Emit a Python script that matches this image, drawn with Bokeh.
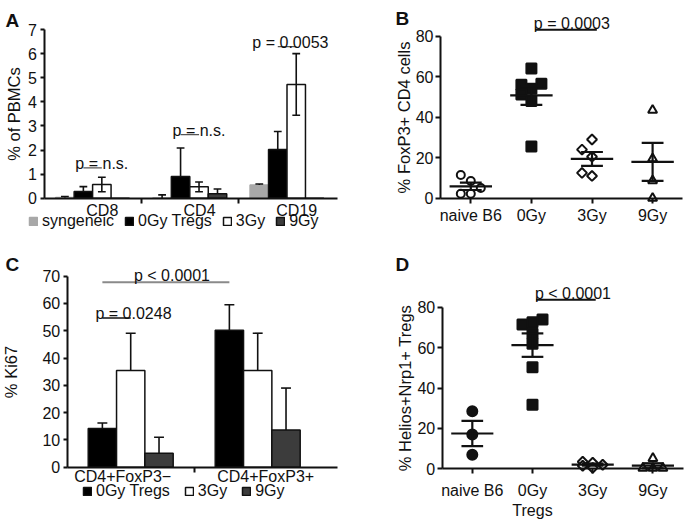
import numpy as np
from bokeh.plotting import figure
from bokeh.models import FixedTicker, Label, Legend, LegendItem, Range1d
from bokeh.layouts import column, row
from bokeh.embed import file_html
from bokeh.resources import INLINE

FONT = "Liberation Sans"
INK = "#111111"

# ---------------- Panel A data (% of PBMCs) ----------------
a_categories = ["CD8", "CD4", "CD19"]
a_series = ["syngeneic", "0Gy Tregs", "3Gy", "9Gy"]
a_syngeneic = [0.03, 0.01, 0.55]
a_syngeneic_err = [0.04, 0.13, 0.04]
a_0gy = [0.28, 0.90, 2.02]
a_0gy_err = [0.20, 1.18, 0.75]
a_3gy = [0.57, 0.47, 4.72]
a_3gy_err = [0.30, 0.20, 1.28]
a_9gy = [0.0, 0.18, 0.0]
a_9gy_err = [0.0, 0.20, 0.0]
a_pvalues = ["p = n.s.", "p = n.s.", "p = 0.0053"]

# ---------------- Panel B data (% FoxP3+ CD4 cells) ----------------
b_groups = ["naive B6", "0Gy", "3Gy", "9Gy"]
b_naive = [11.5, 8.5, 5.0, 2.2, 2.2]
b_0gy = [64.0, 56.5, 56.0, 54.0, 51.2, 48.0, 25.5]
b_3gy = [29.0, 24.0, 20.5, 12.5, 11.0]
b_9gy = [43.5, 19.5, 8.7, 0.0]
b_pvalue = "p = 0.0003"

# ---------------- Panel C data (% Ki67) ----------------
c_categories = ["CD4+FoxP3\u2212", "CD4+FoxP3+"]
c_series = ["0Gy Tregs", "3Gy", "9Gy"]
c_0gy = [14.2, 50.2]
c_0gy_err = [2.0, 9.3]
c_3gy = [35.4, 35.4]
c_3gy_err = [13.7, 13.7]
c_9gy = [5.1, 13.6]
c_9gy_err = [5.9, 15.4]
c_pvalues = ["p = 0.0248", "p < 0.0001"]

# ---------------- Panel D data (% Helios+Nrp1+ Tregs) ----------------
d_groups = ["naive B6", "0Gy\nTregs", "3Gy", "9Gy"]
d_naive = [28.5, 17.0, 6.9]
d_0gy = [73.9, 72.6, 71.4, 66.8, 61.9, 50.3, 31.7]
d_3gy = [3.5, 3.0, 2.0, 1.5, 0.5]
d_9gy = [5.2, 0.3, 0.3, 0.3]
d_pvalue = "p < 0.0001"

LIFT = 2.0  # px: small upward nudge for free text labels


def make_fig(W, H, x_org, x_org_px, xppu, y_org, y_org_px_bottom, yppu):
    """Figure whose plotting frame covers the whole canvas; axes are pinned inside."""
    x0 = x_org - x_org_px / xppu
    y0 = y_org - y_org_px_bottom / yppu
    p = figure(width=W, height=H, x_range=Range1d(x0, x0 + W / xppu),
               y_range=Range1d(y0, y0 + H / yppu),
               output_backend="svg", toolbar_location=None,
               min_border_left=0, min_border_right=0, min_border_top=0, min_border_bottom=0)
    p.grid.visible = False
    p.outline_line_color = None
    p.background_fill_color = "white"
    p.border_fill_color = "white"
    for ax in p.axis:
        ax.axis_line_width = 2
        ax.axis_line_color = INK
        ax.major_tick_line_width = 2
        ax.major_tick_line_color = INK
        ax.minor_tick_line_width = 2
        ax.minor_tick_line_color = None
        ax.major_tick_in = 0
        ax.minor_tick_in = 0
        ax.major_label_text_font = FONT
        ax.major_label_text_font_size = "16px"
        ax.major_label_text_color = INK
        ax.axis_label_text_font = FONT
        ax.axis_label_text_font_size = "16.5px"
        ax.axis_label_text_font_style = "normal"
        ax.axis_label_text_color = INK
    p.xaxis.fixed_location = y_org
    p.yaxis.fixed_location = x_org
    X = lambda px: x0 + px / xppu                 # px from left edge of canvas
    Y = lambda px: y0 + (H - px) / yppu           # px from top edge of canvas
    return p, X, Y


def label(p, x, y, text, yppu, size="16px", bold=False, align="left", color=INK):
    p.add_layout(Label(x=x, y=y + LIFT / yppu, text=text, text_font=FONT, text_font_size=size,
                       text_font_style="bold" if bold else "normal",
                       text_align=align, text_baseline="alphabetic", text_color=color))


def errorbars(p, xs, tops, errs, cap, both):
    xs = np.asarray(xs, float)
    tops = np.asarray(tops, float)
    errs = np.asarray(errs, float)
    m = errs > 0
    xs, tops, errs = xs[m], tops[m], errs[m]
    lo = tops - errs if both else tops
    hi = tops + errs
    p.segment(x0=xs, y0=lo, x1=xs, y1=hi, line_color=INK, line_width=1.6)
    p.segment(x0=xs - cap, y0=hi, x1=xs + cap, y1=hi, line_color=INK, line_width=1.6)
    if both:
        p.segment(x0=xs - cap, y0=lo, x1=xs + cap, y1=lo, line_color=INK, line_width=1.6)


def swarm(vals, xc, px_x, px_y, d_px=10.0, coll_px=9.5):
    vals = np.asarray(vals, float)
    order = np.argsort(vals, kind="stable")
    placed = []
    offs = np.zeros(len(vals))
    for i in order:
        y = vals[i] * px_y
        best, best_d = 0.0, -1.0
        for k in (0, -1, 1):
            x = k * d_px
            dmin = min([np.hypot(x - a, y - b) for a, b in placed] + [1e9])
            if dmin >= coll_px:
                best = x
                break
            if dmin > best_d:
                best, best_d = x, dmin
        placed.append((best, y))
        offs[i] = best / px_x
    return xc + offs


def dotplot(p, groups_vals, markers, px_x, px_y):
    for i, (vals, (mk, size, filled)) in enumerate(zip(groups_vals, markers)):
        xc = i + 1
        xs = swarm(vals, xc, px_x, px_y)
        kw = dict(marker=mk, size=size, line_color=INK, line_width=2,
                  fill_color=INK if filled else "white")
        if mk == "diamond":
            kw["marker"] = "square"
            kw["angle"] = np.pi / 4
        p.scatter(x=xs, y=vals, **kw)
        v = np.asarray(vals, float)
        mean = v.mean()
        sem = v.std(ddof=1) / np.sqrt(len(v))
        p.segment(x0=[xc - 0.35], y0=[mean], x1=[xc + 0.35], y1=[mean], line_color=INK, line_width=2.2)
        p.segment(x0=[xc], y0=[mean - sem], x1=[xc], y1=[mean + sem], line_color=INK, line_width=2.2)
        p.segment(x0=[xc - 0.18, xc - 0.18], y0=[mean - sem, mean + sem],
                  x1=[xc + 0.18, xc + 0.18], y1=[mean - sem, mean + sem], line_color=INK, line_width=2.2)


def legend(p, items, loc, spacing):
    p.add_layout(Legend(items=items, orientation="horizontal", location=loc,
                        glyph_width=10, glyph_height=10, label_standoff=4, spacing=spacing,
                        padding=0, margin=0, border_line_color=None, background_fill_alpha=0,
                        label_text_font=FONT, label_text_font_size="16px", label_text_color=INK))


# ======================= Panel A =======================
pxA, pyA = 97.2, 24.1
pA, XA, YA = make_fig(340, 250, 0, 43.5, pxA, 0, 52.3, pyA)
wA = 0.19
offA = [-1.5 * wA, -0.5 * wA, 0.5 * wA, 1.5 * wA]
cA = np.arange(len(a_categories)) + 0.5
a_vals = [a_syngeneic, a_0gy, a_3gy, a_9gy]
a_errs = [a_syngeneic_err, a_0gy_err, a_3gy_err, a_9gy_err]
a_fill = ["#a8a8a8", "#000000", "#ffffff", "#3c3c3c"]
a_line = ["#a8a8a8", INK, INK, INK]
itemsA = []
for k in range(4):
    r = pA.vbar(x=cA + offA[k], top=a_vals[k], width=wA, fill_color=a_fill[k],
                line_color=a_line[k], line_width=1.5)
    itemsA.append(LegendItem(label=a_series[k], renderers=[r]))
for k in range(4):
    errorbars(pA, cA + offA[k], a_vals[k], a_errs[k], 0.04, both=(k == 2))
a_line_h = [1.26, 2.64, 6.29]
pA.segment(x0=cA + offA[1], y0=a_line_h, x1=cA + offA[2], y1=a_line_h, line_color="#555555", line_width=1.3)
a_text_x = [cA[0] + offA[2], cA[1] + offA[2], cA[2] + offA[2] - 0.06]
for t, x, h in zip(a_pvalues, a_text_x, a_line_h):
    label(pA, x, h + 2.0 / pyA, t, pyA, align="center")
lab_pos_A = cA + 0.1
pA.xaxis.ticker = FixedTicker(ticks=list(lab_pos_A), minor_ticks=[1.0, 2.0])
pA.xaxis.major_label_overrides = {float(c): n for c, n in zip(lab_pos_A, a_categories)}
pA.xaxis.bounds = (0, 3.02)
pA.xaxis.major_tick_out = 0
pA.xaxis.minor_tick_out = 5
pA.xaxis.minor_tick_line_color = INK
pA.xaxis.major_label_standoff = -1
pA.yaxis.ticker = FixedTicker(ticks=list(range(0, 8)))
pA.yaxis.bounds = (0, 7)
pA.yaxis.major_tick_out = 4
pA.yaxis.major_label_standoff = 3
pA.yaxis.axis_label = "% of PBMCs"
pA.yaxis.axis_label_standoff = 3
legend(pA, itemsA, (28, 20), 10)
label(pA, XA(5), YA(22), "A", pyA, size="19px", bold=True)

# ======================= Panel B =======================
pxB, pyB = 60.6, 2.025
pB, XB, YB = make_fig(347, 250, 0.5, 100, pxB, 0, 52.3, pyB)
dotplot(pB, [b_naive, b_0gy, b_3gy, b_9gy],
        [("circle", 8, False), ("square", 10, True), ("diamond", 7, False), ("triangle", 9, False)],
        pxB, pyB)
pB.segment(x0=[2.06], y0=[83.2], x1=[3.08], y1=[83.2], line_color=INK, line_width=2)
label(pB, 2.04, 83.2 + 4.3 / pyB, b_pvalue, pyB)
pB.xaxis.ticker = FixedTicker(ticks=[1, 2, 3, 4])
pB.xaxis.major_label_overrides = {i + 1: g for i, g in enumerate(b_groups)}
pB.xaxis.bounds = (0.5, 4.5)
pB.xaxis.major_tick_out = 5
pB.xaxis.major_label_standoff = 4
pB.yaxis.ticker = FixedTicker(ticks=[0, 20, 40, 60, 80])
pB.yaxis.bounds = (0, 80)
pB.yaxis.major_tick_out = 5
pB.yaxis.major_label_standoff = 2
pB.yaxis.axis_label = "% FoxP3+ CD4 cells"
pB.yaxis.axis_label_standoff = 0
label(pB, XB(55), YB(20), "B", pyB, size="19px", bold=True)

# ======================= Panel C =======================
pxC, pyC = 127.0, 2.729
pC, XC, YC = make_fig(340, 270, 0, 66.7, pxC, 0, 53.3, pyC)
wC = 0.223
offC = [-wC, 0.0, wC]
cC = np.arange(len(c_categories)) + 0.5
c_vals = [c_0gy, c_3gy, c_9gy]
c_errs = [c_0gy_err, c_3gy_err, c_9gy_err]
c_fill = ["#000000", "#ffffff", "#3c3c3c"]
itemsC = []
for k in range(3):
    r = pC.vbar(x=cC + offC[k], top=c_vals[k], width=wC, fill_color=c_fill[k],
                line_color=INK, line_width=1.5)
    itemsC.append(LegendItem(label=c_series[k], renderers=[r]))
for k in range(3):
    errorbars(pC, cC + offC[k], c_vals[k], c_errs[k], 0.039, both=False)
pC.segment(x0=[cC[0] + offC[0]], y0=[54.7], x1=[cC[0] + offC[1]], y1=[54.7], line_color=INK, line_width=1.5)
label(pC, 0.522, 54.7 + 2.3 / pyC, c_pvalues[0], pyC, align="center")
pC.segment(x0=[cC[0] + offC[0]], y0=[67.8], x1=[cC[1] + offC[0]], y1=[67.8], line_color="#8a8a8a", line_width=2)
label(pC, 0.825, 67.8 + 4.4 / pyC, c_pvalues[1], pyC, align="center")
lab_pos_C = cC + np.array([-0.063, 0.063])
pC.xaxis.ticker = FixedTicker(ticks=list(lab_pos_C), minor_ticks=[1.0])
pC.xaxis.major_label_overrides = {float(c): n for c, n in zip(lab_pos_C, c_categories)}
pC.xaxis.bounds = (0, 2.13)
pC.xaxis.major_tick_out = 0
pC.xaxis.minor_tick_out = 5
pC.xaxis.minor_tick_line_color = INK
pC.xaxis.major_label_standoff = -4
pC.yaxis.ticker = FixedTicker(ticks=list(range(0, 71, 10)))
pC.yaxis.bounds = (0, 70)
pC.yaxis.major_tick_out = 4
pC.yaxis.major_label_standoff = 3
pC.yaxis.axis_label = "% Ki67"
pC.yaxis.axis_label_standoff = 20
legend(pC, itemsC, (82, 20), 14)
label(pC, XC(5), YC(16), "C", pyC, size="19px", bold=True)

# ======================= Panel D =======================
pxD, pyD = 60.2, 2.02
pD, XD, YD = make_fig(347, 270, 0.5, 101.7, pxD, 0, 51.7, pyD)
dotplot(pD, [d_naive, d_0gy, d_3gy, d_9gy],
        [("circle", 10, True), ("square", 10, True), ("diamond", 7, False), ("triangle", 9, False)],
        pxD, pyD)
pD.segment(x0=[2.06], y0=[83.7], x1=[3.05], y1=[83.7], line_color=INK, line_width=2)
label(pD, 2.04, 83.7 + 4.3 / pyD, d_pvalue, pyD)
pD.xaxis.ticker = FixedTicker(ticks=[1, 2, 3, 4])
pD.xaxis.major_label_overrides = {i + 1: g for i, g in enumerate(d_groups)}
pD.xaxis.bounds = (0.5, 4.5)
pD.xaxis.major_tick_out = 5
pD.xaxis.major_label_standoff = 8
pD.yaxis.ticker = FixedTicker(ticks=[0, 20, 40, 60, 80])
pD.yaxis.bounds = (0, 80)
pD.yaxis.major_tick_out = 5
pD.yaxis.major_label_standoff = 2
pD.yaxis.axis_label = "% Helios+Nrp1+ Tregs"
pD.yaxis.axis_label_standoff = 1
label(pD, XD(55), YD(16), "D", pyD, size="19px", bold=True)

layout = column(row(pA, pB), row(pC, pD))
open("out.html", "w").write(file_html(layout, INLINE))
